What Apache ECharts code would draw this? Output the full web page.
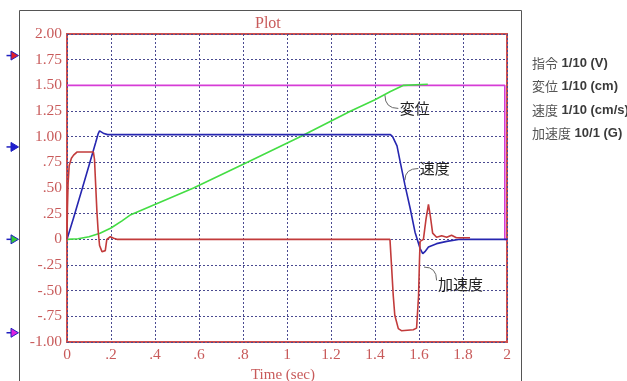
<!DOCTYPE html>
<html>
<head>
<meta charset="utf-8">
<script src="https://cdn.jsdelivr.net/npm/echarts@6/dist/echarts.min.js"></script>
<style>
  html, body { margin: 0; padding: 0; background: #fff; }
  #main { width: 627px; height: 381px; }
</style>
</head>
<body>
<div id="main"></div>
<script>
// series names (legend shows the scale of each channel)
const names = ['指令 1/10 (V)', '変位 1/10 (cm)', '速度 1/10 (cm/s)', '加速度 10/1 (G)'];

// [time (sec), value]
const command = [[0, 1.5], [1.99, 1.5], [1.99, 0], [2, 0]];

const displacement = [
  [0, 0], [0.05, 0.005], [0.1, 0.025], [0.15, 0.06], [0.2, 0.11], [0.25, 0.18],
  [0.29, 0.24], [0.575, 0.5], [0.82, 0.75], [1.06, 1.0], [1.29, 1.25], [1.4, 1.36],
  [1.47, 1.44], [1.53, 1.5], [1.64, 1.51]
];

const velocity = [
  [0, 0], [0.03, 0.21], [0.07, 0.5], [0.1, 0.72], [0.13, 0.94], [0.142, 1.03],
  [0.148, 1.057], [0.156, 1.05], [0.168, 1.03], [0.185, 1.02], [1.47, 1.02],
  [1.48, 1.0], [1.5, 0.91], [1.515, 0.75], [1.536, 0.53], [1.56, 0.3], [1.582, 0.07],
  [1.605, -0.09], [1.617, -0.14], [1.627, -0.12], [1.643, -0.075], [1.68, -0.042],
  [1.726, -0.02], [1.786, 0], [2, 0]
];

const acceleration = [
  [0, 0], [0.002, 0.3], [0.005, 0.55], [0.01, 0.72], [0.02, 0.79], [0.03, 0.82],
  [0.045, 0.85], [0.12, 0.85], [0.125, 0.78], [0.129, 0.59], [0.136, 0.27],
  [0.141, 0.1], [0.148, -0.06], [0.159, -0.12], [0.174, -0.11], [0.181, 0],
  [0.197, 0.025], [0.212, 0.01], [0.227, 0], [1.468, 0], [1.476, -0.29],
  [1.483, -0.55], [1.49, -0.74], [1.506, -0.87], [1.52, -0.89], [1.574, -0.88],
  [1.589, -0.865], [1.598, -0.55], [1.602, -0.22], [1.605, -0.02], [1.62, 0.0],
  [1.632, 0.2], [1.643, 0.34], [1.652, 0.22], [1.662, 0.06], [1.68, 0.02],
  [1.703, 0.035], [1.726, 0.02], [1.748, 0.04], [1.77, 0.015], [1.832, 0.015]
];

// offset markers on the left edge (y value of each channel's marker)
const markerLevels = [1.79, 0.9, 0, -0.91];
const markerColors = ['#e0202a', '#1f1fd0', '#33cc33', '#dd22dd'];

// callouts: [text, line start, line end] in data coords
const notes = [
  ['変位', [1.445, 1.405], [1.506, 1.275], 'down'],
  ['速度', [1.536, 0.576], [1.597, 0.69], 'up'],
  ['加速度', [1.623, -0.27], [1.68, -0.40], 'side']
];

const lineColors = ['#d63cd6', '#44dd44', '#2626b0', '#c23b3b'];
const red = '#c85a5a';
const serif = '"Liberation Serif", "DejaVu Serif", serif';

function fmtY(v) {
  if (Math.abs(v) < 1e-9) return '0';
  let s = Math.abs(v).toFixed(2);
  if (Math.abs(v) < 1) s = s.slice(1);
  return (v < 0 ? '-' : '') + s;
}
function fmtX(v) {
  if (Math.abs(v) < 1e-9) return '0';
  let s = String(+v.toFixed(1));
  if (s.indexOf('0.') === 0) s = s.slice(1);
  return s;
}

const splitStyle = { show: true, lineStyle: { color: '#4a4a90', type: [2, 2], width: 1 } };

const allData = [command, displacement, velocity, acceleration];

const option = {
  animation: false,
  title: {
    text: 'Plot', left: 250, top: 11,
    textStyle: { fontFamily: serif, fontSize: 16, fontWeight: 'normal', color: red }
  },
  legend: {
    orient: 'vertical', left: 522, top: 51, itemGap: 10,
    itemWidth: 0, itemHeight: 14, icon: 'none', selectedMode: false,
    data: names,
    formatter: (name) => {
      const i = name.indexOf(' ');
      return '{c|' + name.slice(0, i) + '}{b|' + name.slice(i) + '}';
    },
    textStyle: {
      rich: {
        c: { fontFamily: '"Noto Sans CJK JP"', fontSize: 13, color: '#555' },
        b: { fontFamily: '"Liberation Sans", Arial, sans-serif', fontSize: 13, fontWeight: 'bold', color: '#3a3a3a' }
      }
    }
  },
  grid: {
    left: 67, right: 120, top: 34, bottom: 39,
    outerBoundsMode: 'none',
    show: true, borderColor: '#cc4f4f', borderWidth: 2
  },
  xAxis: {
    type: 'value', min: 0, max: 2, interval: 0.2,
    name: 'Time (sec)', nameLocation: 'middle', nameGap: 22,
    nameTextStyle: { fontFamily: serif, fontSize: 15, color: red, padding: [0, 8, 0, 0] },
    axisLine: { show: false }, axisTick: { show: false },
    axisLabel: { formatter: fmtX, margin: 5, fontFamily: serif, fontSize: 15.5, color: red },
    splitLine: splitStyle
  },
  yAxis: {
    type: 'value', min: -1, max: 2, interval: 0.25,
    axisLine: { show: false }, axisTick: { show: false },
    axisLabel: { formatter: fmtY, margin: 5, fontFamily: serif, fontSize: 15.5, color: red },
    splitLine: splitStyle
  },
  series: names.map((n, i) => ({
    name: n, type: 'line', data: allData[i],
    showSymbol: false, symbol: 'none', silent: true,
    itemStyle: { color: lineColors[i] },
    lineStyle: { color: lineColors[i], width: 1.6 },
    z: 3 + i
  }))
};

const chart = echarts.init(document.getElementById('main'));
chart.setOption(option);

const px = (p) => chart.convertToPixel({ xAxisIndex: 0, yAxisIndex: 0 }, p);
const graphics = [];

// outer frame of the window
graphics.push({
  type: 'rect', silent: true,
  shape: { x: 19.5, y: 10.5, width: 502, height: 400 },
  style: { fill: null, stroke: '#555', lineWidth: 1 }
});

// markers on the left
markerLevels.forEach((lv, i) => {
  const y = px([0, lv])[1];
  graphics.push({
    type: 'line', silent: true,
    shape: { x1: 6.5, y1: y, x2: 12, y2: y },
    style: { stroke: '#2020c0', lineWidth: 1.5 }
  });
  graphics.push({
    type: 'polygon', silent: true,
    shape: { points: [[11, y - 4.5], [18.5, y], [11, y + 4.5]] },
    style: { fill: markerColors[i], stroke: '#2020c0', lineWidth: 1 }
  });
});

// callouts
notes.forEach(([text, a, b, kind]) => {
  const p0 = px(a), p1 = px(b);
  const cp = kind === 'side' ? [p1[0], p0[1]] : [p0[0], p1[1]];
  graphics.push({
    type: 'bezierCurve', silent: true,
    shape: { x1: p0[0], y1: p0[1], x2: p1[0], y2: p1[1], cpx1: cp[0], cpy1: cp[1] },
    style: { stroke: '#666', lineWidth: 1, fill: null }
  });
  graphics.push({
    type: 'text', silent: true,
    style: {
      text: text, x: p1[0] + 1.5, y: p1[1] + (kind === 'side' ? 4 : 0),
      font: '15px "Noto Sans CJK JP"', fill: '#222', verticalAlign: 'middle'
    }
  });
});

chart.setOption({ graphic: graphics });
</script>
</body>
</html>
